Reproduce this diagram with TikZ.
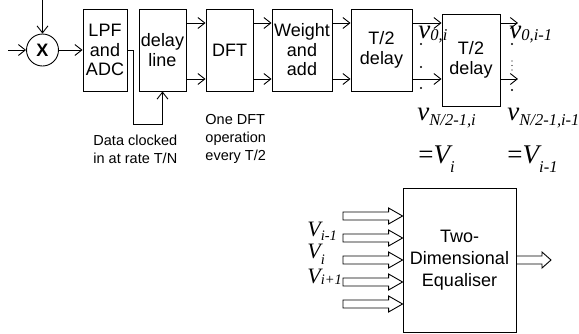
\documentclass[tikz,border=0pt]{standalone}
\usepackage{fontspec}
\setmainfont{Liberation Sans}
\newfontfamily\tnr{Liberation Serif}
\usetikzlibrary{arrows.meta,calc}

% italic symbol with lowered subscript: letter, subscript, drop (pt)
\newcommand{\bigsym}[3]{{\tnr\itshape\fontsize{27}{27}\selectfont #1}{\tnr\itshape\fontsize{16.5}{16.5}\selectfont\raisebox{-#3pt}{#2}}}
\newcommand{\smallsym}[3]{{\tnr\itshape\fontsize{22}{22}\selectfont #1}{\tnr\itshape\fontsize{14.5}{14.5}\selectfont\raisebox{-#3pt}{#2}}}
\newcommand{\eqsign}{{\tnr\fontsize{27}{27}\selectfont=}}
% hollow block arrow from #2 (tail) to #3 (tip), head length #1
\newcommand{\fatarrow}[3][14]{%
  \draw ($(#2)+(0,-4)$) -- ($(#3)+(-#1,-4)$) -- ($(#3)+(-#1,-8)$) -- (#3)
    -- ($(#3)+(-#1,8)$) -- ($(#3)+(-#1,4)$) -- ($(#2)+(0,4)$) -- cycle;}

\begin{document}
\begin{tikzpicture}[x=1pt,y=-1pt,line width=0.9pt,>={Straight Barb[length=7pt,width=11pt]},
  blk/.style={draw, align=center, inner sep=0pt, font=\fontsize{18}{19.5}\selectfont},
  note/.style={align=left, anchor=north west, inner sep=0pt, font=\fontsize{14.5}{18}\selectfont}]
\useasboundingbox (0,0) rectangle (579,333);

% receiver chain
\node[draw, circle, minimum size=32, inner sep=0pt, font=\fontsize{18}{18}\selectfont\bfseries] (mix) at (42.5,50) {X};
\coordinate (rf) at (8,50);
\coordinate (lo) at (42.5,0);
\draw[->] (rf) -- (mix);
\draw[->] (lo) -- (mix);

\node[blk, minimum width=44, minimum height=82] (lpf) at (105,50) {LPF\\and\\ADC};
\node[blk, minimum width=47, minimum height=82] (dl) at (162.5,50) {delay\\line};
\node[blk, minimum width=47, minimum height=82] (dft) at (229.5,50) {DFT};
\node[blk, minimum width=60, minimum height=82] (wa) at (302,50) {Weight\\and\\add};
\node[blk, minimum width=61, minimum height=82] (td1) at (381.5,50) {T/2\\delay};
\node[blk, minimum width=58, minimum height=92] (td2) at (471,60) {T/2\\delay};

\draw[->] (mix) -- (lpf);
\draw[->] (lpf.east) -- ++(6,0) -- ++(0,74) -| (dl.south);
\foreach \a/\b in {dl/dft,dft/wa,wa/td1,td1/td2}{
  \draw[->] (\a.east |- 0,23) -- (\b.west |- 0,23);
  \draw[->] (\a.east |- 0,79) -- (\b.west |- 0,79);
}
\coordinate (o1) at (518,23);
\coordinate (o2) at (518,79);
\draw[->] (td2.east |- o1) -- (o1);
\draw[->] (td2.east |- o2) -- (o2);

% outputs of the delays
\node[anchor=base west, inner sep=0pt] (v0i) at (418,38) {\bigsym{v}{0,i}{2}};
\node[anchor=base west, inner sep=0pt] (v0im) at (509,38) {\bigsym{v}{0,i-1}{2}};
\node[anchor=base west, inner sep=0pt] (vNi) at (417,120) {\bigsym{v}{N/2-1,i}{5}};
\node[anchor=base west, inner sep=0pt] (vNim) at (507,120) {\bigsym{v}{N/2-1,i-1}{5}};
\node[anchor=base west, inner sep=0pt] (Vi) at (418,163) {\eqsign\bigsym{V}{i}{9}};
\node[anchor=base west, inner sep=0pt] (Vim) at (507,163) {\eqsign\bigsym{V}{i-1}{9}};
\foreach \y in {44,67,88} \fill (421,\y) circle (1.2pt);
\foreach \y in {44,90} \fill (512,\y) circle (1.2pt);
\foreach \y in {61,65.5,70} \fill (512,\y) circle (0.6pt);

% notes
\node[note] (clk) at (93,135) {Data clocked\\in at rate T/N};
\node[note] (dftnote) at (205,114) {One DFT\\operation\\every T/2};

% equaliser
\node[blk, minimum width=113, minimum height=144, font=\fontsize{18}{22}\selectfont] (eq) at (459.5,260) {Two-\\Dimensional\\Equaliser};
\foreach \y [count=\k] in {216,238,260,282,304}{
  \coordinate (in\k) at (343,\y);
  \fatarrow{in\k}{eq.west |- in\k}
}
\coordinate (eqout) at (551,260);
\fatarrow[9]{eq.east}{eqout}
\node[anchor=base west, inner sep=0pt] (Vm1) at (307,236) {\smallsym{V}{i-1}{4}};
\node[anchor=base west, inner sep=0pt] (V0) at (307,258) {\smallsym{V}{i}{6}};
\node[anchor=base west, inner sep=0pt] (Vp1) at (307,283) {\smallsym{V}{i+1}{1}};
\end{tikzpicture}
\end{document}
